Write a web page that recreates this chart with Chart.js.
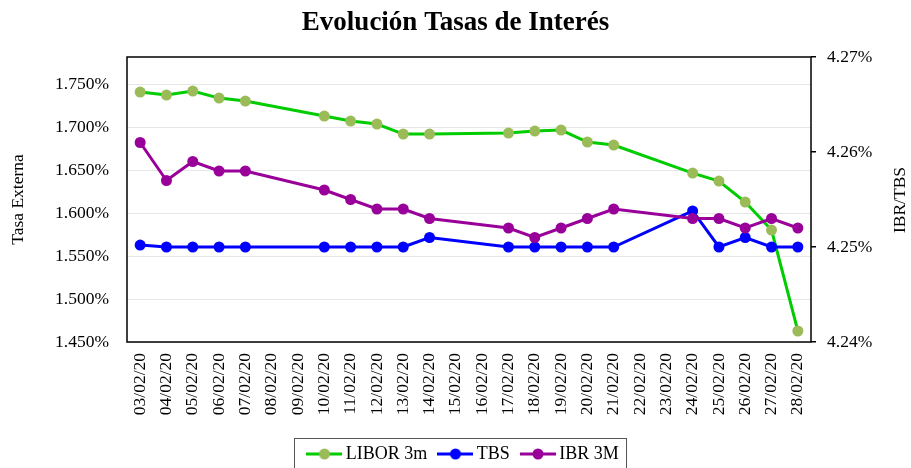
<!DOCTYPE html>
<html>
<head>
<meta charset="utf-8">
<title>Evolución Tasas de Interés</title>
<script src="https://cdn.jsdelivr.net/npm/chart.js@4"></script>
<style>
  html, body { margin: 0; padding: 0; background: #fff; }
</style>
</head>
<body>
<canvas id="chart" width="911" height="468"></canvas>
<script>
// Fechas (incluye fines de semana sin dato)
const dates = [
  "03/02/20", "04/02/20", "05/02/20", "06/02/20", "07/02/20", "08/02/20", "09/02/20",
  "10/02/20", "11/02/20", "12/02/20", "13/02/20", "14/02/20", "15/02/20", "16/02/20",
  "17/02/20", "18/02/20", "19/02/20", "20/02/20", "21/02/20", "22/02/20", "23/02/20",
  "24/02/20", "25/02/20", "26/02/20", "27/02/20", "28/02/20"
];

// Tasa externa (eje izquierdo)
const libor3m = [
  1.7407, 1.7372, 1.7419, 1.7337, 1.7302, null, null,
  1.7128, 1.7070, 1.7035, 1.6919, 1.6919, null, null,
  1.6930, 1.6953, 1.6965, 1.6826, 1.6791, null, null,
  1.6465, 1.6372, 1.6128, 1.5802, 1.4628
];

// IBR / TBS (eje derecho)
const tbs = [
  4.2502, 4.250, 4.250, 4.250, 4.250, null, null,
  4.250, 4.250, 4.250, 4.250, 4.251, null, null,
  4.250, 4.250, 4.250, 4.250, 4.250, null, null,
  4.2538, 4.250, 4.251, 4.250, 4.250
];

const ibr3m = [
  4.261, 4.257, 4.259, 4.258, 4.258, null, null,
  4.256, 4.255, 4.254, 4.254, 4.253, null, null,
  4.252, 4.251, 4.252, 4.253, 4.254, null, null,
  4.253, 4.253, 4.252, 4.253, 4.252
];

const leftTicks = [1.45, 1.50, 1.55, 1.60, 1.65, 1.70, 1.75];
const rightTicks = [4.24, 4.25, 4.26, 4.27];

const serif = "'Liberation Serif', 'Times New Roman', serif";
Chart.defaults.font.family = serif;
Chart.defaults.color = "#000";

// little line + dot image for the legend
function legendMarker(lineColor, dotColor) {
  const c = document.createElement("canvas");
  c.width = 36;
  c.height = 14;
  const g = c.getContext("2d");
  g.strokeStyle = lineColor;
  g.lineWidth = 3;
  g.beginPath();
  g.moveTo(0, 7);
  g.lineTo(36, 7);
  g.stroke();
  g.fillStyle = dotColor;
  g.beginPath();
  g.arc(18, 7, 5.5, 0, Math.PI * 2);
  g.fill();
  return c;
}

const markers = [
  legendMarker("#00CC00", "#9BBB59"),
  legendMarker("#0000FF", "#0000FF"),
  legendMarker("#990099", "#990099")
];

const LEGEND_SHIFT = 10;

const framePlugin = {
  id: "frame",
  beforeDraw(chart) {
    // legend sits a bit right of centre in the original
    const lg = chart.legend;
    if (lg && !lg._shifted) {
      lg.left += LEGEND_SHIFT;
      lg.right += LEGEND_SHIFT;
      (lg.legendHitBoxes || []).forEach(h => { h.left += LEGEND_SHIFT; });
      lg._shifted = true;
    }
  },
  beforeDatasetsDraw(chart) {
    const { ctx, chartArea: a } = chart;
    ctx.save();
    ctx.strokeStyle = "#000";
    ctx.lineWidth = 1.5;
    ctx.strokeRect(a.left, a.top, a.right - a.left, a.bottom - a.top);
    ctx.restore();
  }
};

const extrasPlugin = {
  id: "extras",
  afterDraw(chart) {
    const ctx = chart.ctx;
    ctx.save();
    // right axis title, reading bottom to top
    ctx.translate(900, 200);
    ctx.rotate(-Math.PI / 2);
    ctx.font = "17.5px " + serif;
    ctx.fillStyle = "#000";
    ctx.textAlign = "center";
    ctx.textBaseline = "middle";
    ctx.fillText("IBR/TBS", 0, 0);
    ctx.restore();

    // box round the legend
    const hb = chart.legend.legendHitBoxes;
    if (hb && hb.length) {
      const first = hb[0];
      const last = hb[hb.length - 1];
      const left = first.left - 18;
      const right = last.left + last.width + 7;
      const top = first.top + first.height / 2 - 16;
      ctx.save();
      ctx.strokeStyle = "#555";
      ctx.lineWidth = 1;
      ctx.strokeRect(Math.round(left) + 0.5, Math.round(top) + 0.5, Math.round(right - left), 60);
      ctx.restore();
    }
  }
};

new Chart(document.getElementById("chart"), {
  type: "line",
  data: {
    labels: dates,
    datasets: [
      {
        label: "LIBOR 3m",
        data: libor3m,
        yAxisID: "y",
        borderColor: "#00CC00",
        backgroundColor: "#9BBB59",
        pointBackgroundColor: "#9BBB59",
        pointBorderColor: "#9BBB59",
        pointBorderWidth: 0,
        pointRadius: 5.5,
        borderWidth: 3,
        spanGaps: true,
        order: 2
      },
      {
        label: "TBS",
        data: tbs,
        yAxisID: "y1",
        borderColor: "#0000FF",
        backgroundColor: "#0000FF",
        pointBackgroundColor: "#0000FF",
        pointBorderColor: "#0000FF",
        pointBorderWidth: 0,
        pointRadius: 5.5,
        borderWidth: 3,
        spanGaps: true,
        order: 1
      },
      {
        label: "IBR 3M",
        data: ibr3m,
        yAxisID: "y1",
        borderColor: "#990099",
        backgroundColor: "#990099",
        pointBackgroundColor: "#990099",
        pointBorderColor: "#990099",
        pointBorderWidth: 0,
        pointRadius: 5.5,
        borderWidth: 3,
        spanGaps: true,
        order: 0
      }
    ]
  },
  options: {
    responsive: false,
    animation: false,
    devicePixelRatio: 1,
    layout: { padding: { top: 0, left: 0, right: 0, bottom: -5 } },
    plugins: {
      title: {
        display: true,
        text: "Evolución Tasas de Interés",
        color: "#000",
        font: { size: 27, weight: "bold" },
        padding: { top: 6.8, bottom: 17.8 }
      },
      legend: {
        position: "bottom",
        labels: {
          font: { size: 18 },
          color: "#000",
          usePointStyle: true,
          pointStyleWidth: 24.5,
          padding: 16,
          generateLabels(chart) {
            return chart.data.datasets.map((ds, i) => ({
              text: ds.label,
              pointStyle: markers[i],
              fillStyle: ds.borderColor,
              strokeStyle: ds.borderColor,
              lineWidth: 0,
              hidden: false,
              datasetIndex: i,
              fontColor: "#000"
            }));
          }
        }
      },
      tooltip: { enabled: false }
    },
    scales: {
      x: {
        offset: true,
        grid: { display: false },
        border: { display: false },
        ticks: {
          autoSkip: false,
          maxRotation: 90,
          minRotation: 90,
          padding: 3,
          font: { size: 17.5 }
        },
        afterFit(scale) { scale.height = 87; }
      },
      y: {
        position: "left",
        min: 1.45,
        max: 1.7815,
        afterBuildTicks(scale) { scale.ticks = leftTicks.map(v => ({ value: v })); },
        grid: { color: "#e6e6e6", drawTicks: false },
        border: { display: false },
        ticks: {
          padding: 18,
          font: { size: 17.5 },
          callback: v => v.toFixed(3) + "%"
        },
        title: {
          display: true,
          text: "Tasa Externa",
          font: { size: 17.5 },
          padding: { top: 7.5 }
        },
        afterFit(scale) { scale.width = 127; }
      },
      y1: {
        position: "right",
        min: 4.24,
        max: 4.27,
        afterBuildTicks(scale) { scale.ticks = rightTicks.map(v => ({ value: v })); },
        grid: { drawOnChartArea: false, drawTicks: true, tickLength: 5, color: "#000", lineWidth: 1.5 },
        border: { display: false },
        ticks: {
          padding: 11,
          font: { size: 17.5 },
          callback: v => v.toFixed(2) + "%"
        },
        afterFit(scale) { scale.width = 100; }
      }
    }
  },
  plugins: [framePlugin, extrasPlugin]
});
</script>
</body>
</html>
